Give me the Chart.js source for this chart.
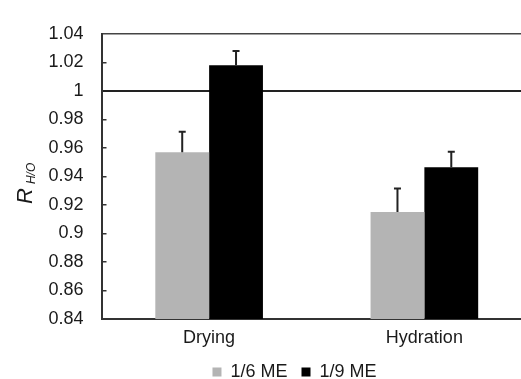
<!DOCTYPE html>
<html>
<head>
<meta charset="utf-8">
<script src="https://cdn.jsdelivr.net/npm/chart.js@4"></script>
<style>
  html, body { margin: 0; padding: 0; background: #fff; overflow: hidden; }
</style>
</head>
<body>
<canvas id="chart" width="532" height="391"></canvas>
<script>
const categories = ['Drying', 'Hydration'];
const seriesNames = ['1/6 ME', '1/9 ME'];
const me6Values = [0.957, 0.915];
const me9Values = [1.018, 0.9465];
const me6Errors = [0.0143, 0.0165];
const me9Errors = [0.0100, 0.0108];
const yTickLabels = ['0.84', '0.86', '0.88', '0.9', '0.92', '0.94', '0.96', '0.98', '1', '1.02', '1.04'];

const FONT = '"Liberation Sans", Arial, sans-serif';
const errors = [me6Errors, me9Errors];

// upward-only error bars with a small cap
const errorBars = {
    id: 'errorBars',
    afterDatasetsDraw(chart) {
        const ctx = chart.ctx;
        const y = chart.scales.y;
        ctx.save();
        ctx.strokeStyle = '#222';
        ctx.lineWidth = 2;
        chart.data.datasets.forEach((ds, i) => {
            chart.getDatasetMeta(i).data.forEach((bar, j) => {
                const top = y.getPixelForValue(ds.data[j] + errors[i][j]);
                ctx.beginPath();
                ctx.moveTo(bar.x, bar.y);
                ctx.lineTo(bar.x, top);
                ctx.moveTo(bar.x - 3.5, top);
                ctx.lineTo(bar.x + 3.5, top);
                ctx.stroke();
            });
        });
        ctx.restore();
    }
};

// legend sits a bit right of the canvas centre
const legendOffset = {
    id: 'legendOffset',
    afterLayout(chart) {
        chart.legend.left += 28.5;
        chart.legend.right += 28.5;
    }
};

// rotated axis title: italic R with subscript H/O
const yTitle = {
    id: 'yTitle',
    afterDraw(chart) {
        const ctx = chart.ctx;
        ctx.save();
        ctx.translate(31.5, 204);
        ctx.rotate(-Math.PI / 2);
        ctx.fillStyle = '#1a1a1a';
        ctx.textBaseline = 'alphabetic';
        ctx.font = 'italic 22px ' + FONT;
        ctx.fillText('R', 0, 0);
        const w = ctx.measureText('R').width;
        ctx.font = 'italic 12px ' + FONT;
        ctx.fillText('H/O', w + 4, 3.5);
        ctx.restore();
    }
};

new Chart(document.getElementById('chart'), {
    type: 'bar',
    data: {
        labels: categories,
        datasets: [{
            label: seriesNames[0],
            data: me6Values,
            backgroundColor: '#b4b4b4',
            borderWidth: 0
        }, {
            label: seriesNames[1],
            data: me9Values,
            backgroundColor: '#000',
            borderWidth: 0
        }]
    },
    options: {
        responsive: false,
        animation: false,
        categoryPercentage: 0.5,
        barPercentage: 1.0,
        layout: { padding: { left: 0, top: 22, right: 0, bottom: 0 } },
        plugins: {
            tooltip: { enabled: false },
            legend: {
                position: 'bottom',
                labels: {
                    boxWidth: 9,
                    boxHeight: 9,
                    padding: 14,
                    color: '#1a1a1a',
                    font: { family: FONT, size: 18 }
                }
            }
        },
        scales: {
            x: {
                afterFit(scale) { scale.height = 30; },
                grid: { display: true, drawOnChartArea: false, drawTicks: false, color: 'transparent' },
                border: { display: true, color: '#333', width: 2 },
                ticks: { padding: 8, color: '#1a1a1a', font: { family: FONT, size: 18 } }
            },
            y: {
                min: 0.84,
                max: 1.04,
                afterFit(scale) { scale.width = 101.5; },
                ticks: {
                    stepSize: 0.02,
                    padding: 23,
                    color: '#1a1a1a',
                    font: { family: FONT, size: 18 },
                    callback: (v, i) => yTickLabels[i]
                },
                grid: {
                    drawTicks: true,
                    tickLength: -5,
                    tickWidth: 1.5,
                    tickColor: (c) => (c.index === 0 || c.index === 8 || c.index === 10) ? 'transparent' : '#333',
                    color: (c) => c.index === 8 ? '#222' : c.index === 10 ? '#444' : 'transparent',
                    lineWidth: (c) => c.index === 8 ? 2 : 1.5
                },
                border: { display: true, color: '#333', width: 2 }
            }
        }
    },
    plugins: [errorBars, legendOffset, yTitle]
});
</script>
</body>
</html>
